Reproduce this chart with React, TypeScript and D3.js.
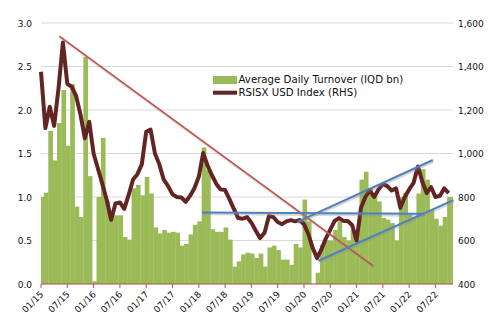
import React from 'react';
import * as d3 from 'd3';

// Monthly average daily turnover (IQD bn), Jan 2015 ... Nov 2022 (left axis)
const turnover: number[] = [
  1.0, 1.05, 1.76, 1.42, 1.85, 2.23, 1.59, 2.3, 0.89, 0.77,
  2.61, 1.24, 0.03, 1.0, 1.68, 0.95, 0.81, 0.79, 0.79, 0.54,
  0.51, 1.1, 1.14, 1.02, 1.23, 1.04, 0.65, 0.58, 0.62, 0.59,
  0.6, 0.59, 0.44, 0.46, 0.57, 0.68, 0.72, 1.57, 1.31, 0.63,
  0.6, 0.6, 0.65, 0.51, 0.2, 0.26, 0.34, 0.36, 0.35, 0.3,
  0.35, 0.2, 0.42, 0.44, 0.39, 0.28, 0.28, 0.22, 0.46, 0.42,
  0.97, 0.72, 0.0, 0.13, 0.45, 0.5, 0.5, 0.62, 0.72, 0.54,
  0.5, 0.62, 0.58, 1.2, 1.29, 1.1, 1.04, 0.95, 0.76, 0.74,
  0.7, 0.5, 1.0, 1.05, 0.8, 0.76, 1.04, 1.32, 1.2, 0.85,
  0.75, 0.67, 0.77, 1.0, 1.0,
];

// RSISX USD Index (right axis), month starts Jan 2015 ... Oct 2022
const rsisx: number[] = [
  1376, 1117, 1215, 1127, 1300, 1510, 1320, 1307, 1265, 1180,
  1070, 1146, 1000, 930, 860, 786, 695, 770, 775, 745,
  810, 880, 905, 950, 1100, 1110, 1000, 950, 880, 850,
  812, 800, 798, 778, 805, 840, 893, 1002, 945, 900,
  860, 835, 832, 790, 745, 703, 700, 708, 682, 645,
  611, 636, 712, 708, 685, 675, 688, 694, 688, 694,
  675, 630, 565, 519, 560, 610, 650, 690, 703, 690,
  690, 670, 600, 750, 800, 830, 800, 835, 860, 850,
  830, 840, 750, 800, 835, 865, 940, 870, 818, 845,
  800, 805, 840, 818,
];

const tickLabels: string[] = [
  '01/15', '07/15', '01/16', '07/16', '01/17', '07/17', '01/18', '07/18',
  '01/19', '07/19', '01/20', '07/20', '01/21', '07/21', '01/22', '07/22',
];
const leftTicks: number[] = [0, 0.5, 1, 1.5, 2, 2.5, 3];
const rightTicks: number[] = [400, 600, 800, 1000, 1200, 1400, 1600];

// trend lines: [month index, right-axis value]
const trendRed: [number, number][] = [[4.17, 1540], [75.8, 483]];
const trendFlat: [number, number][] = [[36.7, 729], [87.5, 723]];
const trendUpper: [number, number][] = [[58.5, 686], [89.4, 970]];
const trendLower: [number, number][] = [[63.3, 507], [94.07, 786]];

const W = 491, H = 332;
const L = 41, R = 453, T = 23, B = 284;
const FONT = 'DejaVu Sans, Verdana, sans-serif';

export default function App() {
  const x = d3.scaleLinear().domain([0, 94]).range([L, R]);
  const yL = d3.scaleLinear().domain([0, 3]).range([B, T]);
  const yR = d3.scaleLinear().domain([400, 1600]).range([B, T]);

  const line = d3.line<number>().x((_, i) => x(i)).y(d => yR(d));
  const tline = d3.line<[number, number]>().x(d => x(d[0])).y(d => yR(d[1]));

  const trends: { d: [number, number][]; c: string; w: number }[] = [
    { d: trendRed, c: '#C0504D', w: 1.6 },
    { d: trendFlat, c: '#4F81BD', w: 2 },
    { d: trendUpper, c: '#4F81BD', w: 2 },
    { d: trendLower, c: '#4F81BD', w: 2 },
  ];

  return (
    <svg width={W} height={H} style={{ position: 'absolute', left: 0, top: 0 }} fontFamily={FONT}>
      <rect width={W} height={H} fill="#fff" />
      <defs>
        <clipPath id="plot"><rect x={L} y={0} width={R - L} height={B} /></clipPath>
      </defs>
      {leftTicks.map(t => (
        <line key={t} x1={L} x2={R} y1={yL(t)} y2={yL(t)} stroke="#D9D9D9" strokeWidth={1} />
      ))}
      <g clipPath="url(#plot)">
        {turnover.map((v, k) => (
          <rect key={k} x={x(k - 0.34)} width={x(k + 0.66) - x(k - 0.34) + 0.3} y={yL(v)} height={B - yL(v)} fill="#9BBB59" />
        ))}
      </g>
      <path d={line(rsisx) || ''} fill="none" stroke="#632523" strokeWidth={4} strokeLinejoin="round" />
      {trends.map((t, i) => (
        <g key={i}>
          <path d={tline(t.d) || ''} transform="translate(0.8,1.6)" fill="none" stroke="#8c8c8c" strokeOpacity={0.35} strokeWidth={t.w + 0.6} />
          <path d={tline(t.d) || ''} fill="none" stroke={t.c} strokeWidth={t.w} />
        </g>
      ))}
      <line x1={L} x2={R} y1={B} y2={B} stroke="#C0504D" strokeWidth={1} />
      {tickLabels.map((lab, j) => {
        const tx = x(j * 6);
        return (
          <g key={lab}>
            <line x1={tx} x2={tx} y1={B} y2={B + 4} stroke="#C0504D" strokeWidth={1} />
            <text transform={`translate(${tx + 3},${B + 11}) rotate(-45)`} textAnchor="end" fontSize={9} fill="#111">{lab}</text>
          </g>
        );
      })}
      {leftTicks.map(t => (
        <text key={t} x={32} y={yL(t) + 3.5} textAnchor="end" fontSize={9} fill="#111">{t.toFixed(1)}</text>
      ))}
      {rightTicks.map(t => (
        <text key={t} x={458} y={yR(t) + 3.5} textAnchor="start" fontSize={9} fill="#111">{d3.format(',')(t)}</text>
      ))}
      <rect x={213} y={76} width={24} height={8} fill="#9BBB59" />
      <line x1={213} x2={237} y1={92.7} y2={92.7} stroke="#632523" strokeWidth={4} />
      <text x={238.5} y={83} fontSize={10.2} fill="#111">Average Daily Turnover (IQD bn)</text>
      <text x={238.5} y={96} fontSize={10.2} fill="#111">RSISX USD Index (RHS)</text>
    </svg>
  );
}
